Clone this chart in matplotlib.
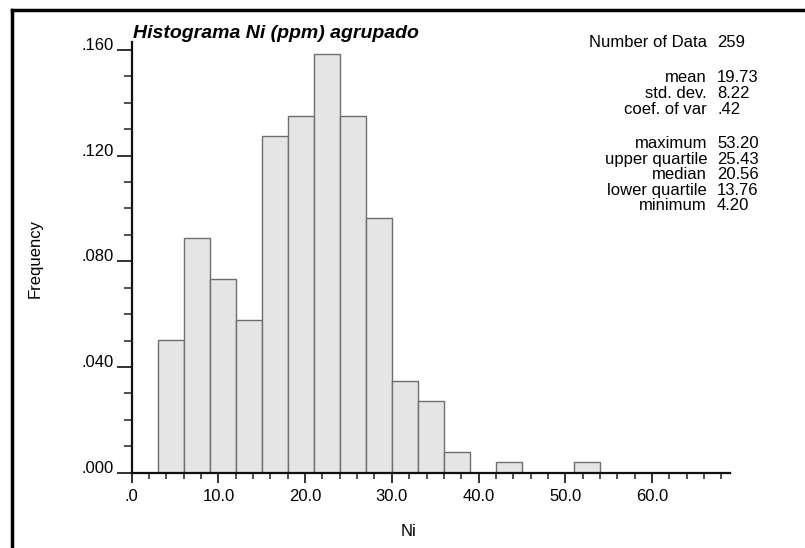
import matplotlib
matplotlib.use("Agg")
import matplotlib.pyplot as plt
from matplotlib.lines import Line2D
from matplotlib.ticker import FixedLocator, MultipleLocator, FuncFormatter

# ---- data ----
bin_width = 3.0
bin_starts = [0, 3, 6, 9, 12, 15, 18, 21, 24, 27, 30, 33, 36, 39, 42, 45,
              48, 51, 54, 57, 60, 63, 66]
frequencies = [0.0, 0.0502, 0.0888, 0.0734, 0.0579, 0.1274, 0.1351, 0.1583,
               0.1351, 0.0965, 0.0347, 0.0270, 0.0077, 0.0, 0.0039, 0.0,
               0.0, 0.0039, 0.0, 0.0, 0.0, 0.0, 0.0]
x_ticks = [0, 10, 20, 30, 40, 50, 60]
y_ticks = [0.0, 0.04, 0.08, 0.12, 0.16]
stat_labels = ["Number of Data", "mean", "std. dev.", "coef. of var",
               "maximum", "upper quartile", "median", "lower quartile", "minimum"]
stat_values = ["259", "19.73", "8.22", ".42", "53.20", "25.43", "20.56",
               "13.76", "4.20"]
title = "Histograma Ni (ppm) agrupado"

plt.rcParams['font.family'] = ['Liberation Sans', 'DejaVu Sans']

W, H = 805, 548
fig = plt.figure(figsize=(W / 100, H / 100), dpi=100)

def fx(px):
    return px / W

def fy(py):
    return 1 - py / H

x0, x1 = 131.7, 730.0
y0, y1 = 472.7, 42.0
ax = fig.add_axes([fx(x0), fy(y0), fx(x1) - fx(x0), fy(y1) - fy(y0)])

ax.bar(bin_starts, frequencies, width=bin_width, align='edge',
       color='#e5e5e5', edgecolor='#6e6e6e', linewidth=1.0, zorder=2)

ax.set_xlim(0, 69)
ax.set_ylim(0, 0.163)

for s in ['top', 'right']:
    ax.spines[s].set_visible(False)
for s in ['left', 'bottom']:
    ax.spines[s].set_linewidth(1.6)
    ax.spines[s].set_color('#111111')
    ax.spines[s].set_zorder(3)

ax.xaxis.set_major_locator(FixedLocator(x_ticks))
ax.xaxis.set_minor_locator(MultipleLocator(2))
ax.yaxis.set_major_locator(FixedLocator(y_ticks))
ax.yaxis.set_minor_locator(MultipleLocator(0.01))
ax.xaxis.set_major_formatter(FuncFormatter(lambda v, p: f"{v:.1f}".lstrip('0') if v == 0 else f"{v:.1f}"))
ax.yaxis.set_major_formatter(FuncFormatter(lambda v, p: f"{v:.3f}".lstrip('0')))

ax.tick_params(axis='x', which='major', direction='out', length=7.5, width=1.3,
               pad=4, labelsize=12, color='#222222')
ax.tick_params(axis='x', which='minor', direction='out', length=4, width=1.1,
               color='#222222')
ax.tick_params(axis='y', which='major', direction='out', length=11, width=1.3,
               pad=2, labelsize=12, color='#222222')
ax.tick_params(axis='y', which='minor', direction='out', length=5.5, width=1.1,
               color='#222222')
for lab in ax.get_yticklabels():
    lab.set_verticalalignment('baseline')

ax.set_ylabel("Frequency", fontsize=12)
ax.yaxis.set_label_coords(fx(35), fy(258), transform=fig.transFigure)
ax.set_xlabel("Ni", fontsize=12)
ax.xaxis.set_label_coords(fx(408), fy(532), transform=fig.transFigure)
ax.xaxis.label.set_verticalalignment('center')
ax.yaxis.label.set_verticalalignment('center')

fig.text(fx(132.7), fy(37.5), title, fontsize=14, fontweight='bold',
         fontstyle='italic', ha='left', va='baseline')

baselines = [46.8, 81.7, 97.5, 113.5, 148.3, 164.2, 179.3, 195.0, 210.5]
for lab, val, b in zip(stat_labels, stat_values, baselines):
    fig.text(fx(707), fy(b), lab, fontsize=12, ha='right', va='baseline')
    fig.text(fx(717), fy(b), val, fontsize=12, ha='left', va='baseline')

# outer frame (left and top)
fig.add_artist(Line2D([fx(12), fx(12)], [fy(10), 0], transform=fig.transFigure,
                      color='black', linewidth=2.5, solid_capstyle='projecting'))
fig.add_artist(Line2D([fx(12), 1], [fy(10), fy(10)], transform=fig.transFigure,
                      color='black', linewidth=2.5, solid_capstyle='projecting'))

fig.savefig("out.png", dpi=100)
